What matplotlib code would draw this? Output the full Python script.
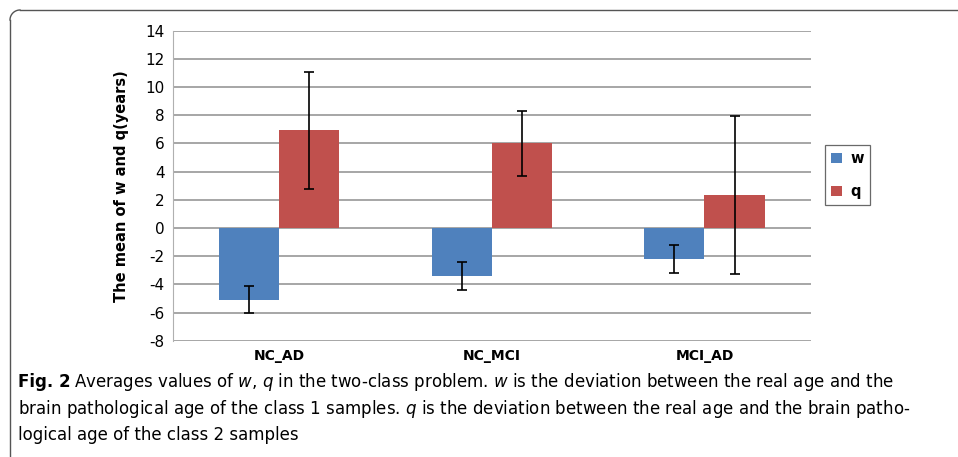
import numpy as np
import matplotlib
matplotlib.use("Agg")
import matplotlib.pyplot as plt
from matplotlib.lines import Line2D

# data
groups = ["NC_AD", "NC_MCI", "MCI_AD"]
w_mean = [-5.1, -3.4, -2.2]
w_err = [0.95, 1.0, 1.0]
q_mean = [6.95, 6.0, 2.35]
q_err = [4.15, 2.3, 5.6]
y_ticks = list(range(-8, 15, 2))

blue = "#4F81BD"
red = "#C0504D"

fig = plt.figure(figsize=(9.58, 4.57), dpi=100)
ax = fig.add_axes([0.1806, 0.2545, 0.6657, 0.6783])

x = np.arange(len(groups))
bw = 0.283
ax.bar(x - bw / 2, w_mean, bw, color=blue, label="w", zorder=3)
ax.bar(x + bw / 2, q_mean, bw, color=red, label="q", zorder=3)
ax.errorbar(x - bw / 2, w_mean, yerr=w_err, fmt="none", ecolor="black",
            elinewidth=1.2, capsize=3.5, capthick=1.2, zorder=4)
ax.errorbar(x + bw / 2, q_mean, yerr=q_err, fmt="none", ecolor="black",
            elinewidth=1.2, capsize=3.5, capthick=1.2, zorder=4)

ax.set_xlim(-0.5, len(groups) - 0.5)
ax.set_ylim(-8, 14)
ax.set_yticks(y_ticks)
ax.set_yticklabels([str(t) for t in y_ticks], fontsize=11)
ax.set_xticks(x)
ax.set_xticklabels(groups, fontsize=10, fontweight="bold")
ax.tick_params(length=0, pad=6)
ax.yaxis.grid(True, color="#a6a6a6", linewidth=1.4, zorder=0)
ax.set_axisbelow(True)
for s in ["top", "right", "bottom"]:
    ax.spines[s].set_visible(False)
ax.spines["left"].set_color("#b0b0b0")
ax.set_ylabel("The mean of w and q(years)", fontsize=10.5, fontweight="bold",
              labelpad=12)

leg = ax.legend(loc="center left", bbox_to_anchor=(1.022, 0.534), frameon=True,
                fancybox=False, edgecolor="#444444", borderaxespad=0,
                handlelength=0.7, handleheight=0.7, labelspacing=1.2,
                borderpad=0.45, handletextpad=0.6,
                prop={"weight": "bold", "size": 10.5})
leg.get_frame().set_linewidth(0.9)

# outer frame (open to the right and bottom)
fig.add_artist(Line2D([10 / 958, 10 / 958], [0, 1 - 20 / 457], color="#555555",
                      linewidth=1.0, transform=fig.transFigure))
fig.add_artist(Line2D([20 / 958, 1], [1 - 10 / 457, 1 - 10 / 457], color="#555555",
                      linewidth=1.0, transform=fig.transFigure))
theta = np.linspace(np.pi / 2, np.pi, 20)
cx, cy = 20, 20
fig.add_artist(Line2D((cx + 10 * np.cos(theta)) / 958, 1 - (cy - 10 * np.sin(theta)) / 457,
                      color="#555555", linewidth=1.0, transform=fig.transFigure))

# caption
fig.text(18 / 958, 1 - 382 / 457, "Fig. 2", fontsize=12, fontweight="bold", va="center")
fig.text(74 / 958, 1 - 382 / 457,
         "Averages values of $\\it{w}$, $\\it{q}$ in the two-class problem. $\\it{w}$ is the deviation "
         "between the real age and the", fontsize=12, va="center")
fig.text(18 / 958, 1 - 409 / 457,
         "brain pathological age of the class 1 samples. $\\it{q}$ is the deviation between the "
         "real age and the brain patho-", fontsize=12, va="center")
fig.text(18 / 958, 1 - 435 / 457, "logical age of the class 2 samples",
         fontsize=12, va="center")

fig.savefig("out.png", dpi=100)
